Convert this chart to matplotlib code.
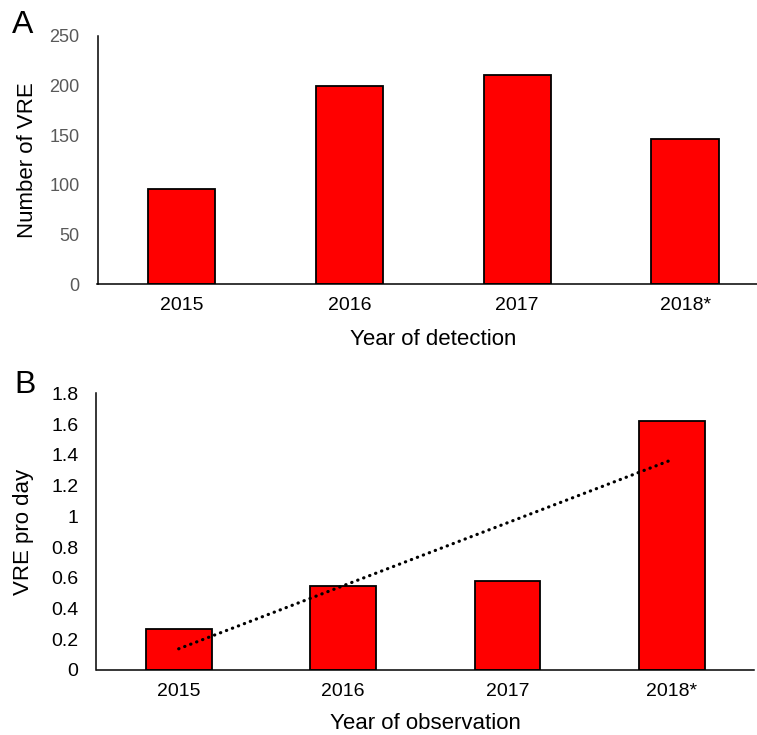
import matplotlib
matplotlib.use("Agg")
import matplotlib.pyplot as plt
import numpy as np
from matplotlib.ticker import FuncFormatter

plt.rcParams['font.family'] = ['Liberation Sans', 'DejaVu Sans']

years = ['2015', '2016', '2017', '2018*']
n_vre = [96, 200, 211, 146]
vre_per_day = [0.265, 0.546, 0.58, 1.62]

W, H = 757, 735
fig = plt.figure(figsize=(W / 100, H / 100), dpi=100)

def px_axes(l, r, top, bot):
    return fig.add_axes([l / W, (H - bot) / H, (r - l) / W, (bot - top) / H])

ax1 = px_axes(97.5, 769, 36, 284.3)
ax2 = px_axes(96.5, 754, 393.3, 670)

x = np.arange(len(years))

for ax in (ax1, ax2):
    for s in ('top', 'right'):
        ax.spines[s].set_visible(False)
    for s in ('left', 'bottom'):
        ax.spines[s].set_linewidth(1.1)
        ax.spines[s].set_color('black')
    ax.set_xlim(-0.5, len(years) - 0.5)
    ax.set_xticks(x)
    ax.set_xticklabels(years)
    ax.tick_params(axis='x', length=0, pad=9, labelsize=14, labelcolor='black')
    ax.tick_params(axis='y', length=0, pad=13)

# Panel A
ax1.bar(x, n_vre, width=0.4, color='#ff0000', edgecolor='black', linewidth=1.3, zorder=2)
ax1.set_ylim(0, 250)
ax1.set_yticks([0, 50, 100, 150, 200, 250])
ax1.tick_params(axis='y', labelsize=13, labelcolor='#595959')
ax1.set_xlabel('Year of detection', fontsize=16, va='baseline')
ax1.xaxis.set_label_coords(0.5, -0.2445)
ax1.set_ylabel('Number of VRE', fontsize=16, va='baseline')
ax1.yaxis.set_label_coords(-0.0965, 0.5)

# Panel B
ax2.bar(x, vre_per_day, width=0.4, color='#ff0000', edgecolor='black', linewidth=1.3, zorder=2)
coef = np.polyfit(x, vre_per_day, 1)
trend = np.polyval(coef, x)
ax2.plot(x, trend, color='black', linewidth=2.3, linestyle=(0, (0.1, 1.9)),
         dash_capstyle='round', zorder=3)
ax2.set_ylim(0, 1.8)
ax2.set_yticks(np.arange(0, 1.81, 0.2))
ax2.yaxis.set_major_formatter(FuncFormatter(lambda v, p: '{:g}'.format(round(v, 1))))
ax2.tick_params(axis='y', labelsize=14, labelcolor='black')
ax2.set_xlabel('Year of observation', fontsize=16, va='baseline')
ax2.xaxis.set_label_coords(0.5, -0.2143)
ax2.set_ylabel('VRE pro day', fontsize=16, va='baseline')
ax2.yaxis.set_label_coords(-0.102, 0.5)

fig.text(12 / W, (H - 33) / H, 'A', fontsize=23, ha='left', va='baseline')
fig.text(14 / W, (H - 393) / H, 'B', fontsize=23, ha='left', va='baseline')

fig.savefig('out.png', dpi=100)
